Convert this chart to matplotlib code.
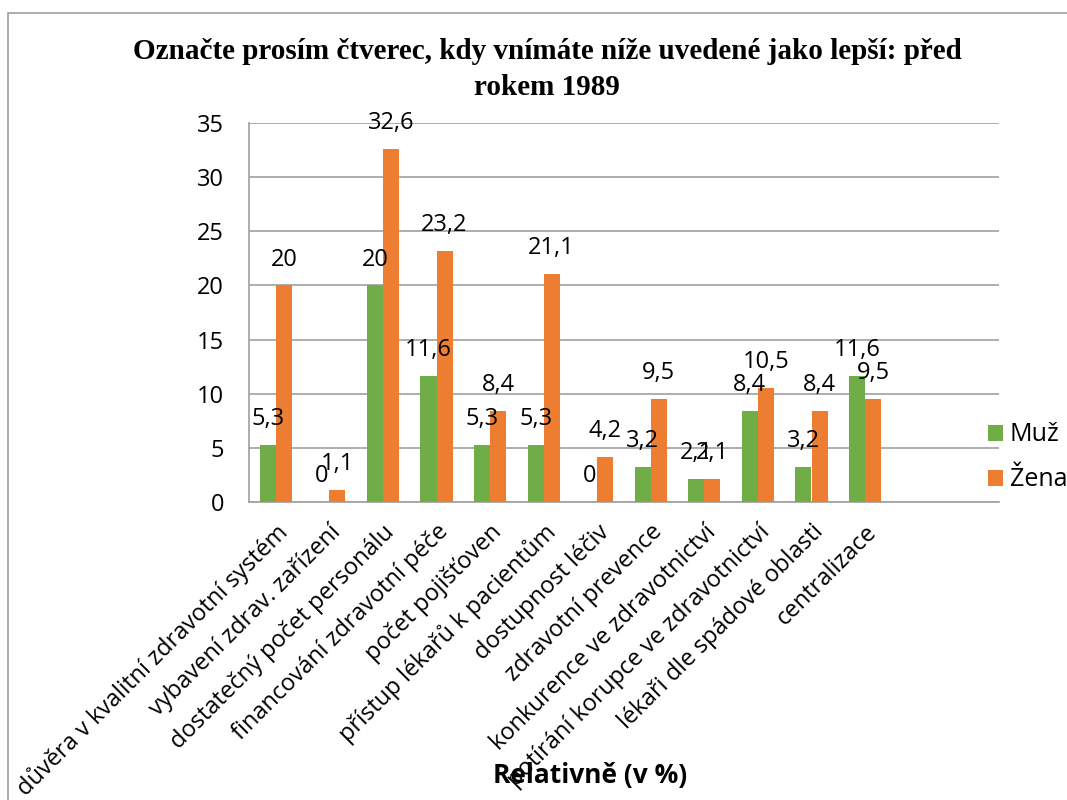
import matplotlib
matplotlib.use('Agg')
import matplotlib.pyplot as plt
import numpy as np
from matplotlib.patches import Rectangle

###############
## Chart data ##
###############

categories = ['důvěra v kvalitní zdravotní systém', 'vybavení zdrav. zařízení',
              'dostatečný počet personálu', 'financování zdravotní péče',
              'počet pojišťoven', 'přístup lékařů k pacientům', 'dostupnost léčiv',
              'zdravotní prevence', 'konkurence ve zdravotnictví',
              'potírání korupce ve zdravotnictví', 'lékaři dle spádové oblasti',
              'centralizace']
muz = [5.3, 0, 20, 11.6, 5.3, 5.3, 0, 3.2, 2.1, 8.4, 3.2, 11.6]
zena = [20, 1.1, 32.6, 23.2, 8.4, 21.1, 4.2, 9.5, 2.1, 10.5, 8.4, 9.5]
yticks = [0, 5, 10, 15, 20, 25, 30, 35]

title = 'Označte prosím čtverec, kdy vnímáte níže uvedené jako lepší: před\nrokem 1989'
xlabel = 'Relativně (v %)'

green = '#70ad47'
orange = '#ed7d31'
sans = 'Open Sans'

def fmt(v):
    s = ('%.1f' % v).rstrip('0').rstrip('.')
    return s.replace('.', ',')

fig = plt.figure(figsize=(10.67, 8.0), dpi=100)
ax = fig.add_axes([249 / 1067, 1 - 502 / 800, (999 - 249) / 1067, (502 - 123) / 800])

x = np.arange(len(categories))
w = 0.3
b1 = ax.bar(x - w / 2, muz, w, color=green, label='Muž', zorder=3)
b2 = ax.bar(x + w / 2, zena, w, color=orange, label='Žena', zorder=3)

for bars, vals in ((b1, muz), (b2, zena)):
    for rect, v in zip(bars, vals):
        ax.annotate(fmt(v), (rect.get_x() + rect.get_width() / 2, rect.get_height()),
                    xytext=(0, 10), textcoords='offset points', ha='center', va='bottom',
                    fontsize=17, family=sans, zorder=4)

ax.set_xlim(-0.5, 13.5)
ax.set_ylim(0, 35)
ax.set_yticks(yticks)
ax.set_yticklabels([str(t) for t in yticks], family=sans, fontsize=17)
ax.yaxis.grid(True, color='#a0a0a0', linewidth=1.2, zorder=0)
ax.tick_params(axis='y', length=0, pad=18)
ax.tick_params(axis='x', length=0)
ax.set_xticks(x)
ax.set_xticklabels(categories, rotation=45, ha='right', rotation_mode='anchor',
                   family=sans, fontsize=17)
for lab in ax.get_xticklabels():
    lab.set_y(-0.035)
for s in ['top', 'right']:
    ax.spines[s].set_visible(False)
for s in ['left', 'bottom']:
    ax.spines[s].set_color('#a0a0a0')
    ax.spines[s].set_linewidth(1.2)

fig.text(547 / 1067, 1 - 38 / 800, title, ha='center', va='top', family='Liberation Serif',
         fontweight='bold', fontsize=21, linespacing=1.45)
fig.text(590 / 1067, 1 - 775 / 800, xlabel, ha='center', va='center', family=sans,
         fontweight='bold', fontsize=19)

leg = fig.legend(handles=[b1, b2], loc='upper left', bbox_to_anchor=(975 / 1067, 1 - 410 / 800),
                 frameon=False, prop={'family': sans, 'size': 18}, handlelength=0.6,
                 handleheight=0.6, handletextpad=0.3, labelspacing=0.8, borderpad=0)

fig.patches.append(Rectangle((8 / 1067, -0.1), 1.2, 1 - 13 / 800 + 0.1, transform=fig.transFigure,
                             fill=False, edgecolor='#a0a0a0', linewidth=1.2))

fig.savefig('out.png', dpi=100)
